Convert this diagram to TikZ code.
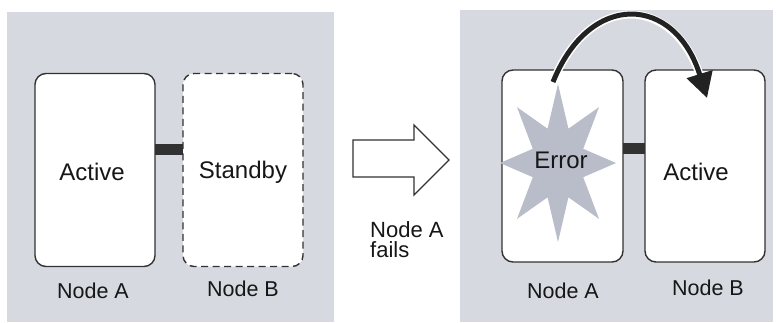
\documentclass[tikz,border=0pt]{standalone}
\usepackage{fontspec}
\setmainfont{Liberation Sans}
\usetikzlibrary{arrows.meta}
\definecolor{panelgray}{RGB}{214,217,223}
\definecolor{stargray}{RGB}{184,189,201}
\definecolor{ink}{RGB}{50,50,50}
\definecolor{txt}{RGB}{22,22,22}
\definecolor{arcink}{RGB}{34,34,34}
\begin{document}
\begin{tikzpicture}[x=1pt,y=-1pt,
  srvbox/.style={draw=ink,line width=1.4pt,fill=white,rounded corners=11pt,
    minimum width=120pt,minimum height=193pt,inner sep=0pt,outer sep=0pt},
  standbybox/.style={srvbox,dash pattern=on 7pt off 4.5pt},
  link/.style={draw=ink,line width=11pt},
  boxtext/.style={font=\fontsize{24}{27}\selectfont,text=txt,anchor=base,inner sep=0pt},
  lbl/.style={font=\fontsize{21.5}{24}\selectfont,text=txt,anchor=base,inner sep=0pt},
  bigarrow/.style={draw=ink,line width=1.2pt,fill=white,line join=miter},
  failover/.style={draw=arcink,line width=5pt,-{Triangle[length=25pt,width=26pt]}}
]
\useasboundingbox (0,0) rectangle (777,322);
\fill[white] (0,0) rectangle (777,322);
% panels
\fill[panelgray] (7,12) rectangle (334,322);
\fill[panelgray] (460,10) rectangle (773,322);

% left panel
\node[srvbox] (la) at (95,170) {};
\node[standbybox] (lb) at (243,170) {};
\draw[link] (la.east |- 0,149) -- (lb.west |- 0,149);
\node[boxtext] (lat) at (92,180) {Active};
\node[boxtext] (lbt) at (243,178) {Standby};
\node[lbl] (lal) at (93,298) {Node A};
\node[lbl] (lbl) at (243,296) {Node B};

% middle arrow
\draw[bigarrow] (353,140) -- (414,140) -- (414,125) -- (449,160) -- (414,195) -- (414,177) -- (353,177) -- cycle;
\node[font=\fontsize{22}{20.5}\selectfont,text=txt,align=left,anchor=north west,inner sep=0pt] (fail) at (370,221) {Node A\\fails};

% right panel
\node[srvbox,minimum width=121pt,minimum height=192pt] (ra) at (562.5,166) {};
\node[srvbox,minimum height=192pt] (rb) at (705,166) {};
\draw[link] (ra.east |- 0,148) -- (rb.west |- 0,148);
% star
\fill[stargray]
  \foreach \k in {0,...,15}{
    \pgfextra{\pgfmathsetmacro\ang{90+22.5*\k}\pgfmathsetmacro\rr{mod(\k,2)==0 ? 1 : 0.47}}
    \ifnum\k=0 (558+58*\rr*cos \ang, 163-79*\rr*sin \ang) \else -- (558+58*\rr*cos \ang, 163-79*\rr*sin \ang)\fi
  } -- cycle;
\node[boxtext] (err) at (561,168) {Error};
\node[boxtext] (rbt) at (696,180) {Active};
\node[lbl] (ral) at (563,298) {Node A};
\node[lbl] (rbl) at (708,295) {Node B};
% failover arc
\coordinate (arcs) at (553,82);
\coordinate (arce) at (707,98);
\draw[white,line width=8pt,shorten >=20pt] (arcs) .. controls (590,-10) and (675,-5) .. (arce);
\draw[failover] (arcs) .. controls (590,-10) and (675,-5) .. (arce);
\end{tikzpicture}
\end{document}
